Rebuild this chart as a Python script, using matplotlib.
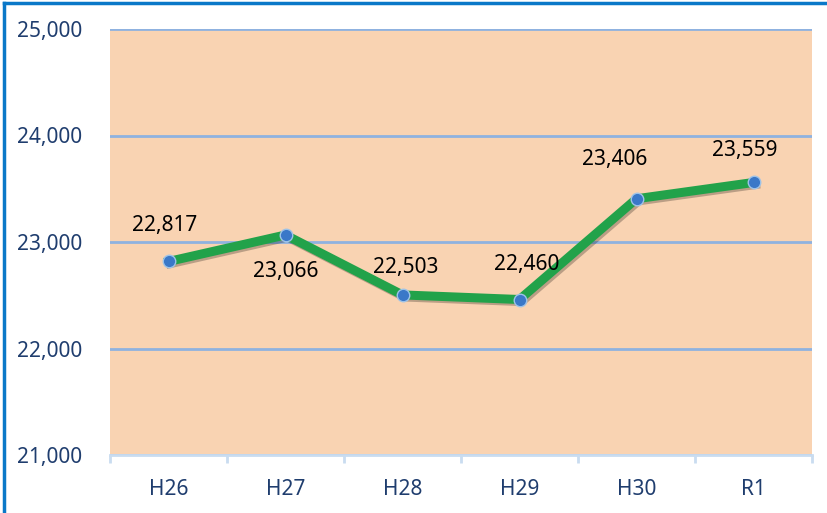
import matplotlib.pyplot as plt
import matplotlib.patheffects as pe
from matplotlib.lines import Line2D
from matplotlib.ticker import FuncFormatter

# Data
years  = ['H26', 'H27', 'H28', 'H29', 'H30', 'R1']
values = [22817, 23066, 22503, 22460, 23406, 23559]
# label offsets in points (dx, dy) relative to each point
label_offsets = [(-3, 26), (0, -26), (2, 20), (5, 25), (-16, 28), (-6, 23)]

plt.rcParams['font.family'] = ['Noto Sans', 'DejaVu Sans']

fig = plt.figure(figsize=(8.27, 5.13), dpi=100)
ax = fig.add_axes([110/827, 1 - 455/513, 702/827, 426/513])
ax.set_facecolor('#f9d3b2')

x = list(range(len(years)))
ax.plot(x, values, color='#22a24a', lw=6.5, solid_joinstyle='round', zorder=3,
        path_effects=[pe.SimpleLineShadow(offset=(1.5, -1.5), alpha=0.25), pe.Normal()])
ax.plot(x, values, 'o', ms=9, color='#3a78c8', mec='#9ec3e8', mew=1, zorder=4)

for xi, v, (dx, dy) in zip(x, values, label_offsets):
    ax.annotate(f'{v:,}', (xi, v), xytext=(dx, dy), textcoords='offset points',
                ha='center', va='center', fontsize=15, color='black')

ax.set_xlim(-0.5, len(years) - 0.5)
ax.set_ylim(21000, 25000)
ax.set_yticks([21000, 22000, 23000, 24000, 25000])
ax.yaxis.set_major_formatter(FuncFormatter(lambda v, p: f'{int(v):,}'))
ax.grid(axis='y', color='#8fb2e0', lw=2, zorder=1)
ax.set_axisbelow(True)

ax.set_xticks(x)
ax.set_xticklabels(years)
ax.set_xticks([i - 0.5 for i in range(len(years) + 1)], minor=True)
ax.tick_params(axis='x', which='major', length=0, pad=17, labelsize=15, labelcolor='#1f3d6e')
ax.tick_params(axis='x', which='minor', length=6, width=2, color='#c9dcf0')
ax.tick_params(axis='y', length=0, pad=20, labelsize=15, labelcolor='#1f3d6e')

for s in ['top', 'right', 'left']:
    ax.spines[s].set_visible(False)
ax.spines['bottom'].set_color('#c9dcf0')
ax.spines['bottom'].set_linewidth(2)

# blue frame on the figure edge
fig.add_artist(Line2D([4/827, 4/827], [0, 1 - 3/513], transform=fig.transFigure,
                      color='#0a78c8', lw=2.5))
fig.add_artist(Line2D([4/827, 1], [1 - 3/513, 1 - 3/513], transform=fig.transFigure,
                      color='#0a78c8', lw=2.5))

fig.savefig('out.png', dpi=100)
